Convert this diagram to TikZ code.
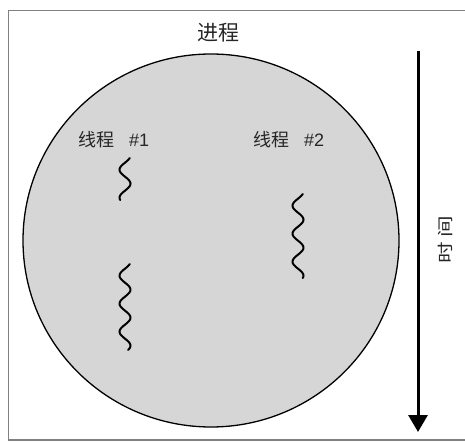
\documentclass[tikz,border=0pt]{standalone}
\usepackage{fontspec}
\usepackage{graphicx}
\setmainfont{Noto Sans CJK SC}
\newfontfamily\latinsans{Liberation Sans}
\usetikzlibrary{arrows.meta,shapes.geometric}
\newcommand\squig[4]{% x, ytop, ybottom, name
  \draw[squigline] plot[domain=-60:{(#3-#2)/14*180-60}, samples=80, smooth, variable=\t]
    ({#1-5.5*sin(\t)}, {#2+(\t+60)/180*14});
}
\tikzset{
  squigline/.style={line width=2pt, line cap=round},
  lbl/.style={inner sep=0pt, text=black!85},
}
\begin{document}
\begin{tikzpicture}[x=1pt,y=-1pt]
\useasboundingbox (0,0) rectangle (465,443);
\fill[white] (0,0) rectangle (465,443);
\draw[black!50, line width=1.3pt] (8.5,10.5) rectangle (470,440);
\node[ellipse, draw, line width=1.3pt, fill=black!16, minimum width=376pt, minimum height=373pt, inner sep=0pt] (proc) at (211,240.5) {};
\node[lbl, font=\fontsize{21}{21}\selectfont] (title) at (218,33) {进程};
\node[lbl, font=\fontsize{18}{18}\selectfont] (th1) at (114,140) {线程\hspace{0.8em}{\latinsans\#1}};
\node[lbl, font=\fontsize{18}{18}\selectfont] (th2) at (289,140) {线程\hspace{0.8em}{\latinsans\#2}};
\squig{125}{158}{200}{s1}
\squig{125}{264}{350}{s2}
\squig{298}{194}{278}{s3}
\coordinate (atop) at (418,51);
\coordinate (abot) at (418,432);
\draw[line width=3pt, -{Triangle[width=19pt,length=17pt]}] (atop) -- (abot);
\node[lbl, rotate=90, font=\fontsize{16}{16}\selectfont] (time) at (445,240) {\scalebox{1.35}[1]{时\hspace{0.2em}间}};
\end{tikzpicture}
\end{document}
